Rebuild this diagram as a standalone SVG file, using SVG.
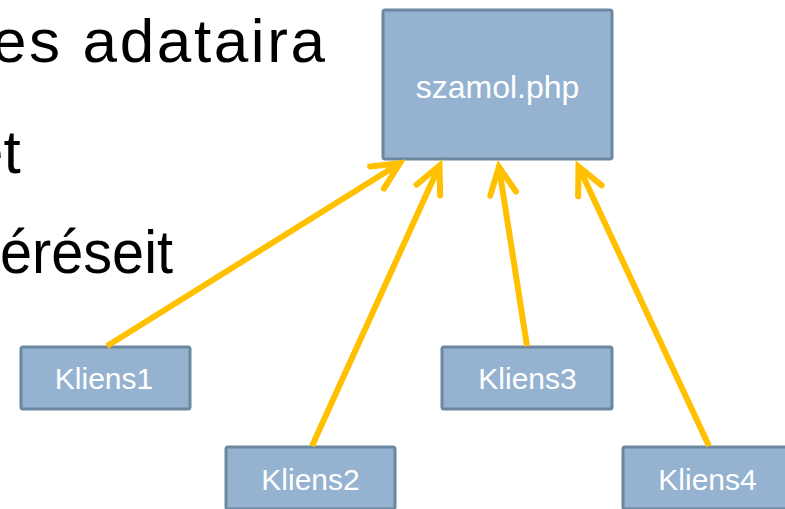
<svg xmlns="http://www.w3.org/2000/svg" width="785" height="509" viewBox="0 0 785 509">
  <style>
    .body { font-family: "Liberation Sans", Arial, sans-serif; font-size: 62px; fill: #000000; }
    .box { fill: #95b3d0; stroke: #6c87a0; stroke-width: 3; }
    .label { font-family: "Liberation Sans", Arial, sans-serif; fill: #ffffff; text-anchor: middle; }
    .link { fill: none; stroke: #ffc000; stroke-width: 6; stroke-linecap: butt; marker-end: url(#chevron); }
  </style>
  <defs>
    <marker id="chevron" markerUnits="userSpaceOnUse" orient="auto" refX="0" refY="0"
            markerWidth="60" markerHeight="60" viewBox="-40 -30 60 60" overflow="visible">
      <path d="M -27 -13 L 0 0 L -27 13" fill="none" stroke="#ffc000" stroke-width="6"
            stroke-linecap="round" stroke-linejoin="miter"/>
    </marker>
  </defs>

  <rect width="785" height="509" fill="#ffffff"/>

  <!-- slide body text, running off the left edge -->
  <g id="body-text">
    <text class="body" x="-8" y="62" textLength="333" lengthAdjust="spacing">es adataira</text>
    <text class="body" x="-31" y="173">et</text>
    <text class="body" x="0" y="273" textLength="173" lengthAdjust="spacingAndGlyphs">éréseit</text>
  </g>

  <g id="szamol">
    <rect class="box" x="383" y="10" width="229" height="149" rx="2"/>
    <text class="label" x="497.5" y="98" font-size="32">szamol.php</text>
  </g>

  <g id="kliens1">
    <rect class="box" x="21" y="347" width="169" height="62" rx="2"/>
    <text class="label" x="104" y="389" font-size="30">Kliens1</text>
  </g>

  <g id="kliens2">
    <rect class="box" x="226" y="447" width="169" height="62" rx="2"/>
    <text class="label" x="310.5" y="490" font-size="30">Kliens2</text>
  </g>

  <g id="kliens3">
    <rect class="box" x="442" y="347" width="170" height="62" rx="2"/>
    <text class="label" x="527.5" y="389" font-size="30">Kliens3</text>
  </g>

  <g id="kliens4">
    <rect class="box" x="623" y="447" width="169" height="62" rx="2"/>
    <text class="label" x="707.5" y="490" font-size="30">Kliens4</text>
  </g>

  <!-- client requests pointing up to the server script -->
  <g id="connectors">
    <line class="link" x1="107" y1="346" x2="399.9" y2="163.2"/>
    <line class="link" x1="312" y1="446" x2="439.5" y2="165.5"/>
    <line class="link" x1="527" y1="346" x2="498.9" y2="166.9"/>
    <line class="link" x1="709" y1="446" x2="578.5" y2="166.4"/>
  </g>
</svg>
